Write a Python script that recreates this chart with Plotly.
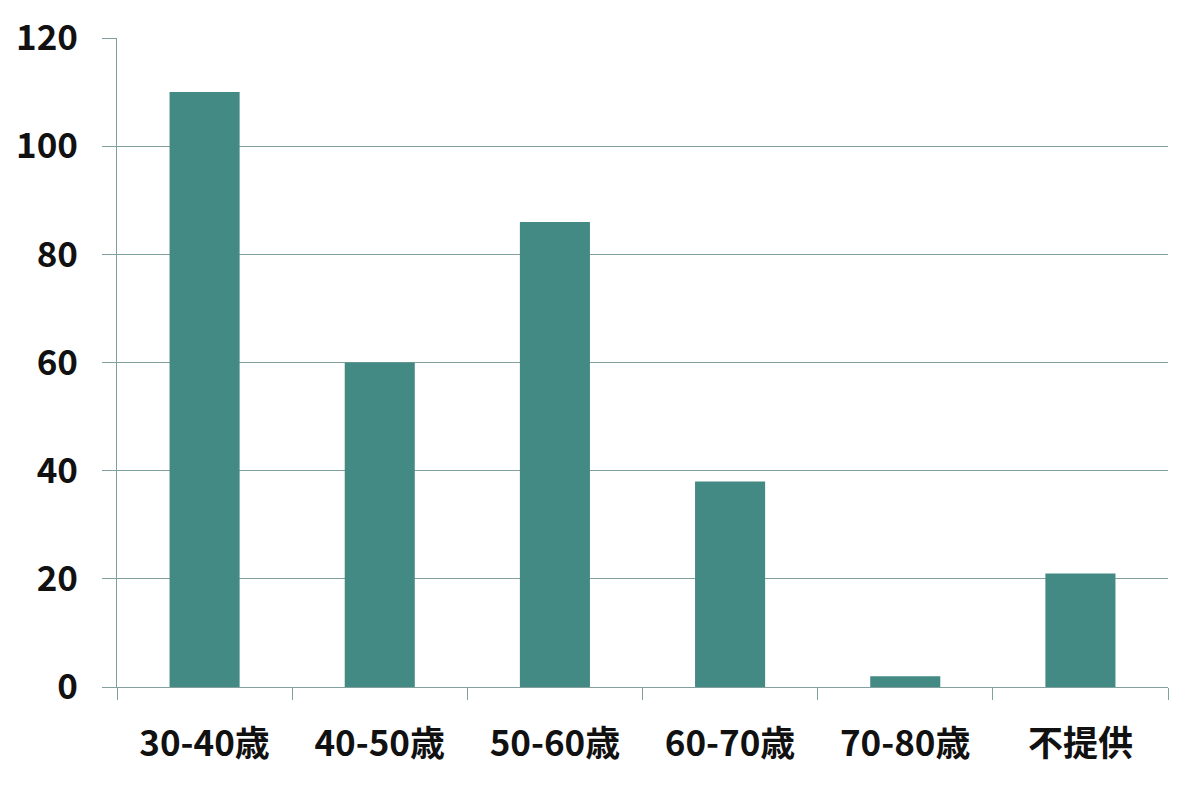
import plotly.graph_objects as go

categories = ["30-40歳", "40-50歳", "50-60歳", "60-70歳", "70-80歳", "不提供"]
values = [110, 60, 86, 38, 2, 21]
y_ticks = [0, 20, 40, 60, 80, 100, 120]

bar_color = "#448a84"
grid_color = "#82a09e"
font_family = "Noto Sans CJK JP, Noto Sans, sans-serif"

fig = go.Figure(
    go.Bar(
        x=categories,
        y=values,
        marker=dict(color=bar_color, line=dict(width=0)),
        width=0.4,
    )
)

# page body has an 8px default margin, so offsets compensate for it
fig.update_layout(
    width=1183,
    height=787,
    paper_bgcolor="white",
    plot_bgcolor="white",
    margin=dict(l=109, r=23, t=30, b=108, autoexpand=False),
    showlegend=False,
    font=dict(family=font_family, color="#111111"),
)

fig.update_xaxes(
    type="category",
    automargin=False,
    tickson="boundaries",
    ticks="outside",
    ticklen=12,
    tickwidth=1,
    tickcolor=grid_color,
    showline=True,
    linecolor=grid_color,
    linewidth=1,
    showgrid=False,
    tickfont=dict(size=35, family=font_family, weight="bold", color="#111111"),
    ticklabelstandoff=26,
)

fig.update_yaxes(
    range=[0, 120],
    automargin=False,
    tickvals=y_ticks,
    ticktext=[str(v) for v in y_ticks],
    ticks="outside",
    ticklen=14,
    tickwidth=1,
    tickcolor=grid_color,
    showline=True,
    linecolor=grid_color,
    linewidth=1,
    showgrid=True,
    gridcolor=grid_color,
    gridwidth=1,
    zeroline=False,
    tickfont=dict(size=35, family=font_family, weight="bold", color="#111111"),
    ticklabelstandoff=17,
)

fig.write_html("out.html")
